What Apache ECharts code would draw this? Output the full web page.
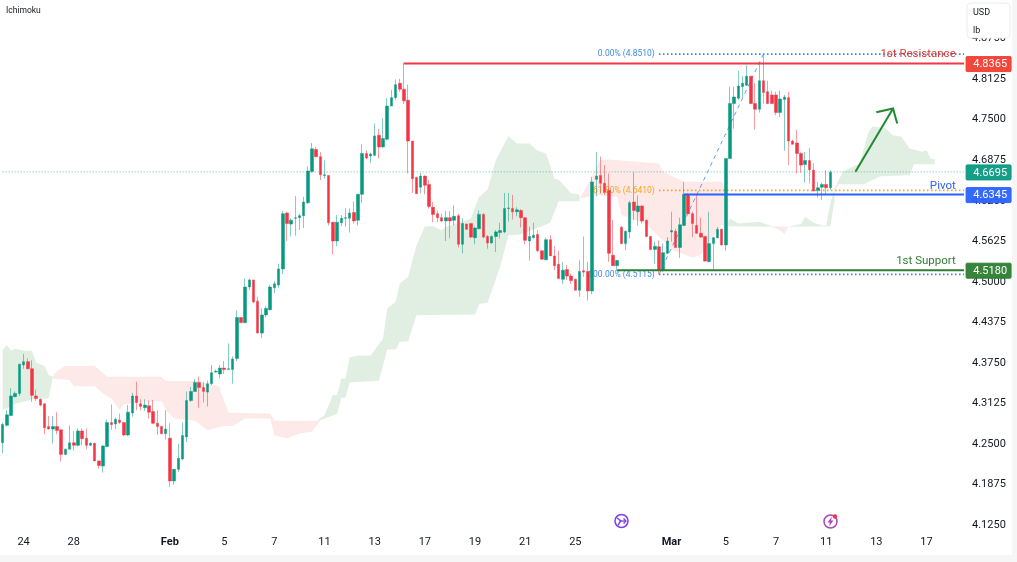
<!DOCTYPE html>
<html>
<head>
<meta charset="utf-8">
<title>Ichimoku</title>
<script src="https://cdn.jsdelivr.net/npm/echarts@6/dist/echarts.min.js"></script>
<style>
  html, body { margin: 0; padding: 0; background: #f6f6f6; }
  #chart { width: 1012px; height: 555px; background: #fff; }
</style>
</head>
<body>
<div id="chart"></div>
<script>
// candles, 4h, left to right
const opens = [4.252,4.279,4.294,4.323,4.328,4.372,4.377,4.366,4.324,4.319,4.312,4.277,4.273,4.277,4.272,4.234,4.242,4.252,4.248,4.270,
  4.259,4.248,4.251,4.224,4.216,4.246,4.283,4.281,4.287,4.283,4.264,4.298,4.324,4.312,4.306,4.309,4.300,4.282,4.277,4.266,
  4.259,4.193,4.211,4.227,4.261,4.317,4.331,4.345,4.337,4.330,4.343,4.361,4.358,4.367,4.365,4.365,4.382,4.445,4.437,4.492,
  4.503,4.470,4.421,4.449,4.457,4.491,4.495,4.520,4.606,4.589,4.598,4.599,4.602,4.622,4.670,4.704,4.693,4.664,4.664,4.592,
  4.563,4.591,4.598,4.598,4.607,4.595,4.635,4.698,4.694,4.695,4.726,4.708,4.720,4.771,4.784,4.806,4.797,4.780,4.717,4.661,
  4.646,4.663,4.650,4.615,4.605,4.599,4.594,4.599,4.595,4.602,4.558,4.589,4.590,4.568,4.582,4.604,4.570,4.560,4.570,4.576,
  4.577,4.613,4.613,4.608,4.610,4.599,4.563,4.568,4.573,4.548,4.534,4.565,4.540,4.527,4.504,4.519,4.509,4.504,4.487,4.517,
  4.516,4.486,4.658,4.664,4.652,4.641,4.541,4.525,4.584,4.559,4.577,4.623,4.608,4.617,4.595,4.570,4.550,4.554,4.518,4.544,
  4.577,4.578,4.553,4.587,4.635,4.605,4.587,4.575,4.570,4.531,4.559,4.568,4.581,4.557,4.690,4.775,4.783,4.801,4.803,4.817,
  4.775,4.766,4.810,4.793,4.788,4.788,4.761,4.781,4.784,4.717,4.714,4.698,4.681,4.687,4.672,4.641,4.646,4.650,4.645]
const closes = [4.280,4.295,4.324,4.328,4.373,4.377,4.366,4.325,4.320,4.310,4.275,4.273,4.277,4.271,4.234,4.242,4.252,4.248,4.270,4.258,
  4.248,4.251,4.224,4.217,4.247,4.283,4.280,4.288,4.283,4.264,4.299,4.324,4.314,4.308,4.310,4.299,4.282,4.277,4.266,4.273,
  4.193,4.211,4.228,4.263,4.317,4.331,4.345,4.337,4.331,4.343,4.360,4.362,4.367,4.365,4.366,4.381,4.445,4.437,4.492,4.503,
  4.469,4.421,4.449,4.459,4.492,4.497,4.520,4.605,4.590,4.595,4.599,4.602,4.623,4.671,4.705,4.693,4.665,4.665,4.591,4.563,
  4.592,4.598,4.599,4.606,4.594,4.635,4.698,4.691,4.697,4.725,4.708,4.721,4.771,4.784,4.804,4.797,4.779,4.717,4.659,4.636,
  4.663,4.649,4.616,4.604,4.599,4.594,4.599,4.594,4.601,4.558,4.590,4.581,4.569,4.583,4.604,4.569,4.560,4.570,4.577,4.579,
  4.613,4.614,4.608,4.611,4.599,4.564,4.570,4.572,4.548,4.535,4.565,4.540,4.525,4.505,4.518,4.509,4.502,4.487,4.516,4.515,
  4.486,4.654,4.663,4.652,4.638,4.544,4.525,4.533,4.559,4.578,4.622,4.610,4.617,4.594,4.570,4.550,4.555,4.518,4.545,4.563,
  4.579,4.553,4.588,4.635,4.605,4.590,4.575,4.569,4.532,4.559,4.568,4.581,4.557,4.690,4.775,4.785,4.802,4.806,4.817,4.775,
  4.766,4.810,4.792,4.775,4.775,4.761,4.782,4.785,4.717,4.712,4.698,4.680,4.687,4.673,4.640,4.645,4.650,4.645,4.669]
const lows = [4.236,4.277,4.293,4.322,4.324,4.366,4.365,4.315,4.316,4.308,4.265,4.273,4.251,4.265,4.223,4.233,4.242,4.240,4.246,4.248,
  4.242,4.247,4.224,4.212,4.206,4.245,4.272,4.273,4.281,4.262,4.262,4.292,4.302,4.302,4.301,4.289,4.281,4.264,4.265,4.257,
  4.184,4.187,4.207,4.225,4.253,4.315,4.331,4.306,4.314,4.308,4.341,4.360,4.351,4.358,4.365,4.343,4.378,4.437,4.437,4.487,
  4.467,4.421,4.413,4.445,4.456,4.483,4.491,4.512,4.563,4.570,4.571,4.580,4.583,4.620,4.668,4.692,4.657,4.659,4.587,4.542,
  4.555,4.586,4.585,4.576,4.590,4.587,4.622,4.689,4.683,4.694,4.690,4.707,4.718,4.771,4.781,4.793,4.774,4.667,4.637,4.636,
  4.636,4.635,4.613,4.592,4.592,4.592,4.563,4.567,4.587,4.553,4.544,4.580,4.567,4.558,4.581,4.567,4.551,4.559,4.546,4.567,
  4.575,4.593,4.596,4.601,4.584,4.558,4.533,4.567,4.546,4.534,4.533,4.540,4.518,4.505,4.497,4.503,4.497,4.487,4.477,4.508,
  4.471,4.481,4.632,4.636,4.634,4.531,4.525,4.518,4.558,4.549,4.567,4.595,4.587,4.590,4.569,4.549,4.528,4.512,4.515,4.543,
  4.562,4.553,4.537,4.586,4.605,4.569,4.574,4.568,4.531,4.531,4.519,4.567,4.556,4.548,4.690,4.736,4.781,4.785,4.802,4.774,
  4.735,4.761,4.775,4.774,4.774,4.757,4.754,4.702,4.680,4.712,4.667,4.668,4.653,4.652,4.640,4.630,4.626,4.635,4.642]
const highs = [4.283,4.302,4.336,4.331,4.374,4.389,4.382,4.379,4.334,4.320,4.312,4.293,4.293,4.299,4.272,4.243,4.279,4.270,4.274,4.274,
  4.274,4.253,4.252,4.224,4.248,4.288,4.311,4.291,4.297,4.283,4.310,4.329,4.346,4.319,4.319,4.317,4.318,4.302,4.278,4.302,
  4.282,4.211,4.250,4.283,4.331,4.338,4.350,4.354,4.346,4.348,4.372,4.365,4.372,4.378,4.405,4.385,4.456,4.445,4.505,4.505,
  4.503,4.477,4.459,4.462,4.495,4.501,4.528,4.609,4.608,4.598,4.632,4.605,4.631,4.678,4.714,4.708,4.700,4.687,4.664,4.592,
  4.603,4.603,4.614,4.613,4.624,4.635,4.712,4.703,4.699,4.744,4.736,4.752,4.783,4.796,4.812,4.813,4.838,4.804,4.717,4.662,
  4.668,4.664,4.657,4.623,4.610,4.605,4.609,4.609,4.618,4.605,4.598,4.590,4.590,4.585,4.610,4.606,4.572,4.572,4.580,4.591,
  4.637,4.637,4.634,4.615,4.612,4.599,4.585,4.591,4.580,4.548,4.568,4.572,4.555,4.548,4.531,4.526,4.513,4.505,4.533,4.570,
  4.531,4.662,4.700,4.693,4.680,4.667,4.595,4.534,4.586,4.579,4.625,4.669,4.633,4.618,4.596,4.570,4.562,4.564,4.559,4.569,
  4.608,4.582,4.599,4.654,4.637,4.608,4.635,4.599,4.570,4.608,4.569,4.585,4.582,4.690,4.801,4.801,4.825,4.817,4.834,4.817,
  4.806,4.837,4.851,4.810,4.795,4.793,4.795,4.788,4.793,4.719,4.734,4.700,4.700,4.706,4.683,4.654,4.653,4.672,4.672]

// ichimoku cloud outlines, [candle index, price]
const cloudGreen = [
  [[-0.5,4.395],[0.56,4.4025],[1.75,4.3937],[3.35,4.3973],[4.94,4.3937],[6.94,4.3937],[7.97,4.3752],[9.73,4.3701],[10.92,4.3562],[11.72,4.3537],
   [10.92,4.3203],[7.73,4.3203],[2.95,4.3115],[0.56,4.3048],[-0.5,4.3023]],
  [[74.96,4.2858],[77.1,4.2945],[78.95,4.3254],[80.3,4.3254],[81.1,4.3511],[81.9,4.3511],[82.9,4.3834],[85.1,4.3865],[87.9,4.3865],[90.9,4.4127],
   [91.9,4.459],[93.9,4.4693],[95.06,4.4975],[97.05,4.5078],[98.6,4.5566],[101,4.5859],[103,4.5859],[104.6,4.5797],[106.2,4.5849],[110.2,4.5926],
   [112.2,4.5977],[113.8,4.6311],[115.8,4.6424],[118.2,4.6877],[121,4.7247],[123,4.7133],[125.8,4.7133],[128.15,4.702],[129.7,4.6979],[131.7,4.6584],
   [132.9,4.6578],[135.7,4.6363],[138.1,4.6347],[138.1,4.6244],[132.9,4.6244],[130.9,4.591],[124.2,4.5731],[121,4.572],[119.4,4.5232],[115.8,4.4677],
   [114.2,4.4657],[113,4.4497],[98.9,4.4487],[97.05,4.4086],[95.06,4.4076],[94.1,4.3958],[91.9,4.3958],[89.9,4.3475],[82.9,4.3449],[81.9,4.3213],
   [81.1,4.3213],[79.9,4.2961],[75.5,4.2868]],
  [[173.05,4.5874],[174,4.5977],[176.4,4.59],[180.8,4.5925],[184,4.5859],[184,4.5848],[173.85,4.5859]],
  [[188,4.5848],[190.75,4.589],[192,4.6002],[194.35,4.591],[195.9,4.5869],[197.1,4.5869],[198.1,4.6208],[198.6,4.6439],[201.1,4.6696],[203.5,4.6799],
   [205.1,4.6814],[206.7,4.7287],[207.9,4.739],[211.1,4.738],[213.1,4.7261],[214.7,4.7236],[216.7,4.7056],[219.5,4.7005],[221.1,4.703],[221.9,4.6902],
   [222.9,4.6886],[222.9,4.6814],[217.9,4.6814],[217.1,4.6645],[210.3,4.6629],[207.5,4.6568],[205.9,4.6506],[200.3,4.6506],[199.1,4.6414],[198.7,4.6259],[197.5,4.5859]],
]
const cloudRed = [
  [[11.72,4.3537],[12.92,4.3629],[14.51,4.3701],[22.09,4.3701],[24.72,4.3537],[38.04,4.3537],[39,4.347],[45.6,4.347],[51.6,4.3382],[52.4,4.3331],
   [54,4.2982],[63.55,4.2971],[64.75,4.2858],[75.1,4.2858],[75.9,4.2858],[73.9,4.2694],[71.1,4.2663],[67.9,4.2586],[65.1,4.2637],[64,4.2894],
   [58.4,4.2894],[55.2,4.2776],[52.8,4.2776],[48.8,4.2714],[45.6,4.2858],[41.2,4.2894],[39.2,4.3023],[37.6,4.3167],[29.3,4.3115],[27.7,4.3023],
   [26.1,4.3203],[24.1,4.328],[21.7,4.339],[16.9,4.339],[15.7,4.3485],[11.72,4.3511]],
  [[138.1,4.6286],[140.5,4.662],[142.9,4.6877],[145.3,4.6887],[156.5,4.6825],[158,4.6697],[162.8,4.6542],[171.6,4.6542],[173.2,4.6455],[173.2,4.5849],
   [171.6,4.5875],[166.8,4.5412],[165.2,4.5376],[160,4.5499],[157.3,4.5695],[154.1,4.589],[148.1,4.6029],[146.5,4.6311],[142,4.6336]],
  [[184,4.5859],[188,4.5848],[187.2,4.5735],[186,4.5797],[184,4.5848]],
]

// levels: price, first candle, colour, width, dash
const lastPrice = 4.6695
const resistance = 4.8365
const pivot = 4.6345
const support = 4.518
const fibLevels = [4.851, 4.641, 4.5115]
const fibTexts = ['0.00% (4.8510)', '61.80% (4.6410)', '100.00% (4.5115)']
const fibColors = ['#3f8ae0', '#f5a623', '#3f8ae0']
const fibLine = [[157.3, 4.5115], [182, 4.851]]
const arrowShaft = [[203.9, 4.6696], [213.1, 4.7673]]
const arrowHead = [[209.3, 4.7616], [213.1, 4.7673], [214, 4.7442]]

const priceTags = [
  [4.8365, '4.8365', '#f23d32'],
  [4.6695, '4.6695', '#089981'],
  [4.6345, '4.6345', '#2962ff'],
  [4.518, '4.5180', '#2e7d32'],
]
const levelTexts = [
  ['1st Resistance', 4.851, '#d93a35'],
  ['Pivot', 4.6476, '#2962ff'],
  ['1st Support', 4.5319, '#2e7d32'],
]

const tickIndex = [5, 17, 40, 53, 65, 77, 89, 101, 113, 125, 137, 160, 173, 185, 197, 209, 221]
const tickLabels = ['24', '28', 'Feb', '5', '7', '11', '13', '17', '19', '21', '25', 'Mar', '5', '7', '11', '13', '17']
const barCount = 230
const categories = Array.from({ length: barCount }, () => '')
tickIndex.forEach((n, k) => { categories[n] = tickLabels[k] })

const font = 'Roboto, "Liberation Sans", sans-serif'
const rightEdge = barCount - 0.5

// one straight or bent line in price space
function pathSeries(points, color, width, dash, z) {
  return {
    type: 'custom', silent: true, z, data: [[points[0][0], points[0][1]]],
    renderItem: (p, api) => ({
      type: 'polyline',
      shape: { points: points.map((q) => api.coord(q)) },
      style: { stroke: color, lineWidth: width, lineDash: dash, fill: null },
    }),
  }
}

function cloudSeries(polys, color) {
  return {
    type: 'custom', silent: true, z: 1, data: polys.map((c, i) => [i, c[0][1]]),
    renderItem: (p, api) => ({
      type: 'polygon',
      shape: { points: polys[p.dataIndex].map((q) => api.coord(q)) },
      style: { fill: color },
    }),
  }
}

function textSeries(rows, x, size, z) {
  return {
    type: 'custom', silent: true, z, data: rows.map((r) => [0, r[1]]),
    renderItem: (p, api) => {
      const r = rows[p.dataIndex]
      const c = api.coord([x, r[1]])
      return {
        type: 'text',
        style: { text: r[0], x: c[0], y: c[1], align: 'right', verticalAlign: 'middle', fill: r[2], fontSize: size, fontFamily: font },
      }
    },
  }
}

const tagSeries = {
  type: 'custom', silent: true, z: 6, data: priceTags.map((t) => [0, t[0]]),
  renderItem: (p, api) => {
    const t = priceTags[p.dataIndex]
    const c = api.coord([rightEdge, t[0]])
    return {
      type: 'group',
      children: [
        { type: 'rect', shape: { x: c[0] + 2, y: c[1] - 7, width: 45, height: 15, r: 1 }, style: { fill: t[2], stroke: t[2], lineWidth: 1, opacity: 0.95 } },
        { type: 'text', style: { text: t[1], x: c[0] + 43, y: c[1] + 1, align: 'right', verticalAlign: 'middle', fill: '#fff', fontSize: 11, fontFamily: font } },
      ],
    }
  },
}

const chart = echarts.init(document.getElementById('chart'))
chart.setOption({
  animation: false,
  title: { text: 'Ichimoku', left: 1, top: 1, textStyle: { fontSize: 8.5, fontWeight: 'normal', color: '#131722', fontFamily: font } },
  grid: { left: 0.6, top: 38.6, width: 961.4, height: 486.5 },
  xAxis: {
    type: 'category',
    data: categories,
    boundaryGap: true,
    axisLine: { show: false },
    axisTick: { show: false },
    splitLine: { show: false },
    axisLabel: {
      margin: 12,
      interval: (i, v) => v !== '',
      hideOverlap: false,
      color: '#131722',
      fontSize: 11,
      fontFamily: font,
      formatter: (v) => (v === 'Feb' || v === 'Mar' ? `{b|${v}}` : v),
      rich: { b: { fontWeight: 'bold', fontSize: 11, color: '#131722', fontFamily: font } },
    },
  },
  yAxis: {
    type: 'value',
    position: 'right',
    min: 4.125,
    max: 4.875,
    interval: 0.0625,
    axisLine: { show: false },
    axisTick: { show: false },
    splitLine: { show: false },
    axisLabel: { margin: 10, padding: [2, 0, 0, 0], color: '#131722', fontSize: 11, fontFamily: font, formatter: (v) => v.toFixed(4) },
  },
  graphic: [
    { type: 'rect', z: 10, shape: { x: 967, y: 3, width: 43, height: 35, r: 4 }, style: { fill: '#fff', stroke: '#ececec', lineWidth: 1 } },
    { type: 'text', z: 11, x: 973, y: 8, style: { text: 'USD', fill: '#131722', fontSize: 9, fontFamily: font } },
    { type: 'text', z: 11, x: 973, y: 26, style: { text: 'lb', fill: '#131722', fontSize: 9, fontFamily: font } },
    // event markers under the candles
    { type: 'circle', z: 10, shape: { cx: 621.5, cy: 521, r: 6.5 }, style: { fill: '#fff', stroke: '#7c3ff2', lineWidth: 1.5 } },
    { type: 'polyline', z: 11, shape: { points: [[617, 518], [621, 521], [618, 525]] }, style: { stroke: '#7c3ff2', lineWidth: 1.3, fill: null } },
    { type: 'polyline', z: 11, shape: { points: [[619, 521], [626, 521]] }, style: { stroke: '#7c3ff2', lineWidth: 1.3, fill: null } },
    { type: 'polyline', z: 11, shape: { points: [[623.5, 518.5], [626, 521], [623.5, 523.5]] }, style: { stroke: '#7c3ff2', lineWidth: 1.3, fill: null } },
    { type: 'circle', z: 10, shape: { cx: 830.5, cy: 521.5, r: 6.5 }, style: { fill: '#fff', stroke: '#ab47bc', lineWidth: 1.5 } },
    { type: 'polygon', z: 11, shape: { points: [[832, 516.5], [827.5, 522.5], [830, 522.5], [829, 526.5], [833.5, 520.5], [831, 520.5]] }, style: { fill: '#ab47bc' } },
    { type: 'circle', z: 12, shape: { cx: 835, cy: 516.5, r: 2.2 }, style: { fill: '#f23645' } },
  ],
  series: [
    cloudSeries(cloudGreen, '#e1efe3'),
    cloudSeries(cloudRed, '#fde9e7'),
    pathSeries([[-0.5, lastPrice], [rightEdge, lastPrice]], 'rgba(8,153,129,0.6)', 1, [1, 2], 1.5),
    textSeries(fibTexts.map((t, i) => [t, fibLevels[i], fibColors[i]]), 155.6, 8.5, 1.6),
    ...fibLevels.map((v, i) => pathSeries([[156.8, v], [rightEdge, v]], fibColors[i], 1.8, [1.6, 2.4], 1.6)),
    pathSeries(fibLine, '#5b9cf6', 1, [4, 4], 1.7),
    {
      type: 'candlestick',
      z: 2,
      barWidth: 3,
      silent: true,
      data: opens.map((o, i) => [o, closes[i], lows[i], highs[i]]),
      itemStyle: { color: '#089981', color0: '#f23645', borderColor: 'rgba(8,153,129,0.5)', borderColor0: 'rgba(242,54,69,0.5)', borderWidth: 1 },
    },
    pathSeries([[96, resistance], [rightEdge, resistance]], '#f23645', 2, null, 3),
    pathSeries([[163, pivot], [rightEdge, pivot]], '#2962ff', 2, null, 3),
    pathSeries([[147, support], [rightEdge, support]], '#2e7d32', 2, null, 3),
    pathSeries(arrowShaft, '#1f8a2f', 2, null, 4),
    pathSeries(arrowHead, '#1f8a2f', 2, null, 4),
    textSeries(levelTexts.map((t) => [t[0], t[1], t[2]]), 228.1, 11.5, 5),
    tagSeries,
  ],
})
</script>
</body>
</html>
